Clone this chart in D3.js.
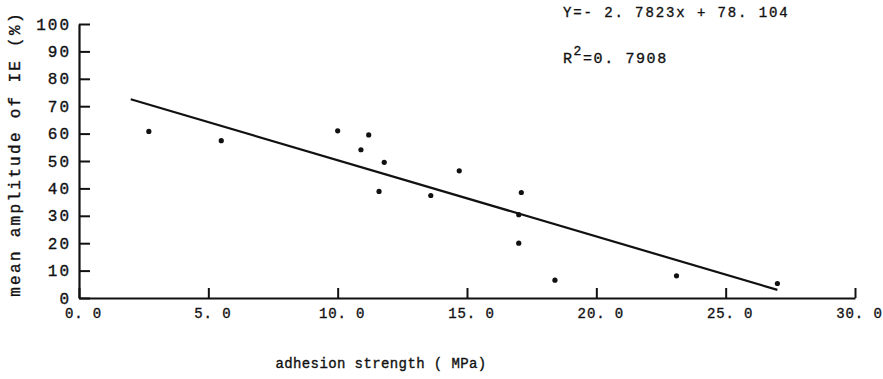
<!DOCTYPE html>
<html>
<head>
<meta charset="utf-8">
<script src="https://cdn.jsdelivr.net/npm/d3@7"></script>
<style>
  html, body { margin: 0; padding: 0; background: #fff; }
  svg { display: block; }
  text { font-family: "Liberation Mono", "DejaVu Sans Mono", monospace; fill: #111; stroke: #111; stroke-width: 0.35px; }
</style>
</head>
<body>
<svg id="chart" width="883" height="379"></svg>
<script>
// Adhesion strength (MPa) vs. mean amplitude of IE (%)
const adhesion  = [2.7, 5.5, 10.0, 11.2, 10.9, 11.8, 11.6, 13.6, 14.7, 17.1, 17.0, 17.0, 18.4, 23.1, 27.0];
const amplitude = [60.8, 57.4, 61.0, 59.5, 54.1, 49.5, 38.9, 37.4, 46.4, 38.5, 30.4, 20.0, 6.5, 8.1, 5.3];

// Fitted regression
const slope = -2.7823;
const intercept = 78.104;
const rSquared = "0. 7908";
const fitRange = [2.0, 27.0];

const xTicks = [0, 5, 10, 15, 20, 25, 30];
const xTickLabels = ["0. 0", "5. 0", "10. 0", "15. 0", "20. 0", "25. 0", "30. 0"];
const yTicks = [0, 10, 20, 30, 40, 50, 60, 70, 80, 90, 100];

const svg = d3.select("#chart");
const x = d3.scaleLinear().domain([0, 30]).range([79, 855]);
const y = d3.scaleLinear().domain([0, 100]).range([298, 24]);

// Y axis (ticks pointing inward)
const yAxis = svg.append("g")
  .attr("transform", `translate(${x(0)},0)`)
  .call(d3.axisLeft(y).tickValues(yTicks).tickSize(-11).tickSizeOuter(0).tickPadding(8));
yAxis.select(".domain").attr("stroke", "#111").attr("stroke-width", 2.2);
yAxis.selectAll(".tick line").attr("stroke", "#111").attr("stroke-width", 2);
yAxis.selectAll(".tick text")
  .style("font-family", "'Liberation Mono', monospace")
  .style("font-size", "16px").style("letter-spacing", "2px")
  .attr("fill", "#111");

// X axis (ticks pointing inward)
const xAxis = svg.append("g")
  .attr("transform", `translate(0,${y(0)})`)
  .call(d3.axisBottom(x).tickValues(xTicks).tickSize(-10).tickSizeOuter(0)
    .tickFormat((d, i) => xTickLabels[i]).tickPadding(10));
xAxis.select(".domain").attr("stroke", "#111").attr("stroke-width", 2.2);
xAxis.selectAll(".tick line").attr("stroke", "#111").attr("stroke-width", 2);
xAxis.selectAll(".tick text")
  .style("font-family", "'Liberation Mono', monospace")
  .style("font-size", "14px").style("letter-spacing", "0.9px")
  .attr("dx", "4").attr("fill", "#111");

// Regression line
svg.append("line")
  .attr("x1", x(fitRange[0])).attr("y1", y(slope * fitRange[0] + intercept))
  .attr("x2", x(fitRange[1])).attr("y2", y(slope * fitRange[1] + intercept))
  .attr("stroke", "#111").attr("stroke-width", 2.2);

// Data points
svg.append("g").selectAll("circle")
  .data(adhesion.map((a, i) => [a, amplitude[i]]))
  .join("circle")
  .attr("cx", d => x(d[0])).attr("cy", d => y(d[1]))
  .attr("r", 2.6).attr("fill", "#111");

// Axis titles
svg.append("text")
  .attr("x", 381).attr("y", 368)
  .attr("text-anchor", "middle")
  .style("font-size", "14px").style("letter-spacing", "0.4px")
  .text("adhesion strength ( MPa)");

svg.append("text")
  .attr("transform", "translate(20,154) rotate(-90)")
  .attr("text-anchor", "middle")
  .style("font-size", "16px").style("letter-spacing", "2.3px")
  .text("mean amplitude of IE (%)");

// Regression equation and R²
svg.append("text")
  .attr("x", 563).attr("y", 17)
  .style("font-size", "14px").style("letter-spacing", "1.9px")
  .text(`Y=- ${Math.abs(slope).toFixed(4).replace(".", ". ")}x + ${intercept.toFixed(3).replace(".", ". ")}`);

const r2 = svg.append("text")
  .attr("x", 563).attr("y", 63)
  .style("font-size", "15px").style("letter-spacing", "1.6px");
r2.append("tspan").text("R");
r2.append("tspan").attr("dy", -8).style("font-size", "13px").text("2");
r2.append("tspan").attr("dy", 8).text("=" + rSquared);
</script>
</body>
</html>
